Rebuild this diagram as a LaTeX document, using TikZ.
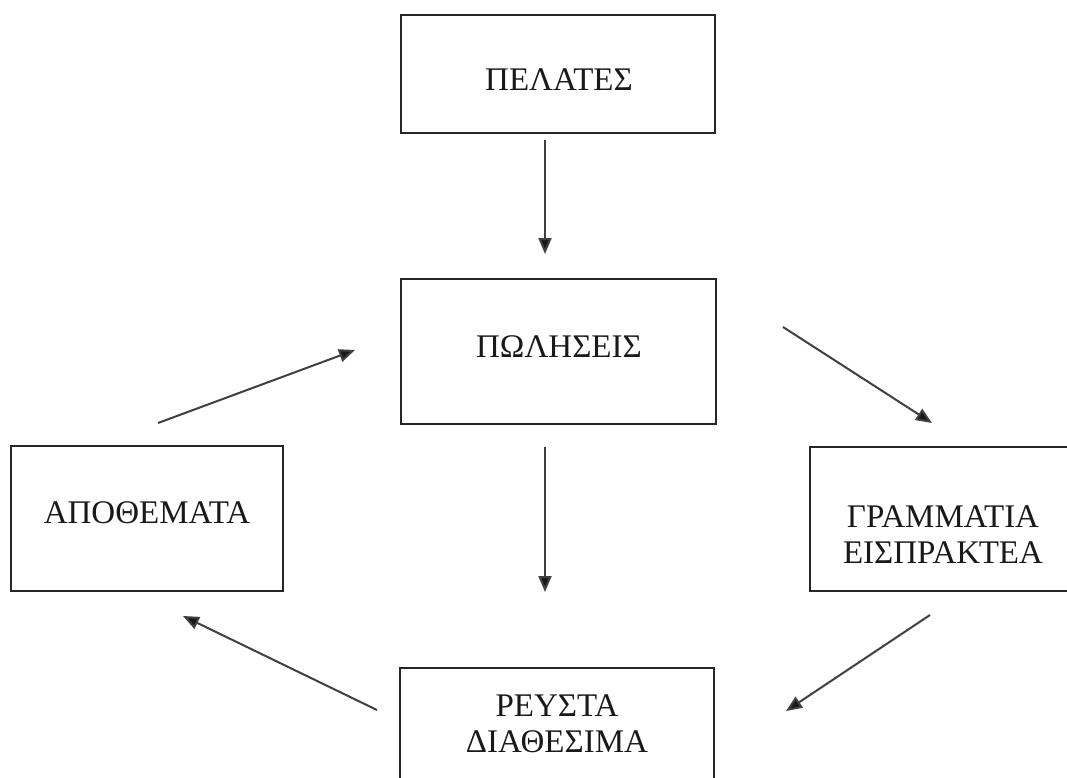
\documentclass[tikz,border=0pt]{standalone}
\usepackage{fontspec}
\setmainfont{Liberation Serif}
\usetikzlibrary{arrows.meta}
\begin{document}
\begin{tikzpicture}[x=1pt,y=-1pt,
  boxstyle/.style={draw=black!85,line width=2.5pt},
  lbl/.style={font=\fontsize{33}{40}\selectfont,text=black!90,align=center,inner sep=0pt},
  flow/.style={draw=black!75,line width=2pt,-{Triangle[length=16pt,width=13pt,fill=black!90]}}]
\useasboundingbox (0,0) rectangle (1067,778);
% boxes
\draw[boxstyle] (401,15) rectangle (715,133);
\draw[boxstyle] (401,279) rectangle (716,424);
\draw[boxstyle] (11,446) rectangle (283,591);
\draw[boxstyle] (810,447) rectangle (1075,591);
\draw[boxstyle] (400,668) rectangle (714,790);
% labels
\node[lbl] (pel) at (559,80) {ΠΕΛΑΤΕΣ};
\node[lbl] (pol) at (559,347) {ΠΩΛΗΣΕΙΣ};
\node[lbl] (apo) at (147,513) {ΑΠΟΘΕΜΑΤΑ};
\node[lbl,align=center] (gra) at (943,535) {ΓΡΑΜΜΑΤΙΑ\\[-4pt]ΕΙΣΠΡΑΚΤΕΑ};
\node[lbl,align=center] (reu) at (557,724) {ΡΕΥΣΤΑ\\[-4pt]ΔΙΑΘΕΣΙΜΑ};
% arrow end points
\coordinate (a1s) at (545,140);
\coordinate (a1e) at (545,254);
\coordinate (a2s) at (545,447);
\coordinate (a2e) at (545,592);
\coordinate (a3s) at (158,423);
\coordinate (a3e) at (355,350);
\coordinate (a4s) at (783,327);
\coordinate (a4e) at (932,423);
\coordinate (a5s) at (930,615);
\coordinate (a5e) at (786,711);
\coordinate (a6s) at (377,710);
\coordinate (a6e) at (183,616);
\draw[flow] (a1s) -- (a1e);
\draw[flow] (a2s) -- (a2e);
\draw[flow] (a3s) -- (a3e);
\draw[flow] (a4s) -- (a4e);
\draw[flow] (a5s) -- (a5e);
\draw[flow] (a6s) -- (a6e);
\end{tikzpicture}
\end{document}
